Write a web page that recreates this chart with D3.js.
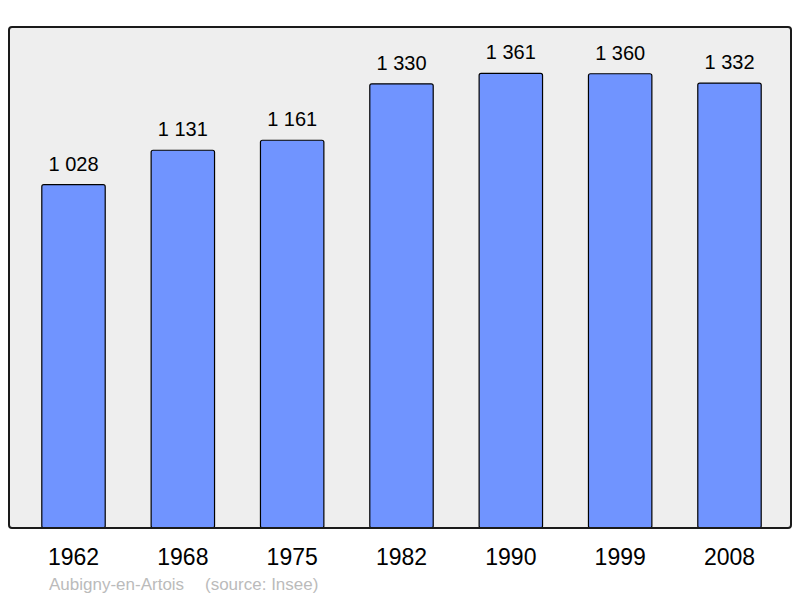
<!DOCTYPE html>
<html>
<head>
<meta charset="utf-8">
<script src="https://cdn.jsdelivr.net/npm/d3@7"></script>
<style>
  body { margin: 0; background: #fff; }
  text { font-family: "Liberation Sans", Arial, sans-serif; }
</style>
</head>
<body>
<div id="chart"></div>
<script>
// data
const years = ['1962', '1968', '1975', '1982', '1990', '1999', '2008'];
const population = [1028, 1131, 1161, 1330, 1361, 1360, 1332];
const commune = 'Aubigny-en-Artois';
const source = '(source: Insee)';

const FRAME_WIDTH = 800;
const FRAME_HEIGHT = 598;
const PLOT = {left: 9, right: 791, top: 27, bottom: 528};

const svg = d3.select('#chart')
  .append('svg')
  .attr('width', FRAME_WIDTH)
  .attr('height', FRAME_HEIGHT);

// scales
const x = d3.scaleBand()
  .domain(years)
  .range([PLOT.left, 794])
  .paddingInner(0.42)
  .paddingOuter(0.3);

const y = d3.scaleLinear()
  .domain([0, 1500])
  .range([PLOT.bottom, PLOT.top]);

// plot background
svg.append('rect')
  .attr('x', PLOT.left)
  .attr('y', PLOT.top)
  .attr('width', PLOT.right - PLOT.left)
  .attr('height', PLOT.bottom - PLOT.top)
  .attr('rx', 3)
  .attr('fill', '#eeeeee')
  .attr('stroke', 'none');

// bars
svg.selectAll('.bar')
  .data(population)
  .join('rect')
  .attr('class', 'bar')
  .attr('x', (d, i) => x(years[i]))
  .attr('y', d => y(d))
  .attr('width', x.bandwidth())
  .attr('height', d => PLOT.bottom - y(d))
  .attr('rx', 2)
  .attr('fill', '#7094ff')
  .attr('stroke', '#000')
  .attr('stroke-width', 1.2);

// frame on top so bar bottoms sit under it
svg.append('rect')
  .attr('x', PLOT.left)
  .attr('y', PLOT.top)
  .attr('width', PLOT.right - PLOT.left)
  .attr('height', PLOT.bottom - PLOT.top)
  .attr('rx', 3)
  .attr('fill', 'none')
  .attr('stroke', '#1a1a1a')
  .attr('stroke-width', 2);

// value labels, french thousands separator
const fmt = d => d3.format(',')(d).replace(',', ' ');
svg.selectAll('.value')
  .data(population)
  .join('text')
  .attr('class', 'value')
  .attr('x', (d, i) => x(years[i]) + x.bandwidth() / 2)
  .attr('y', d => y(d) - 14)
  .attr('text-anchor', 'middle')
  .attr('font-size', 20)
  .attr('fill', '#000')
  .text(fmt);

// x axis labels
const xAxis = d3.axisBottom(x).tickSize(0).tickPadding(0);
svg.append('g')
  .attr('transform', `translate(0, ${PLOT.bottom})`)
  .call(xAxis)
  .call(g => g.select('.domain').remove())
  .call(g => g.selectAll('text')
    .attr('dy', null)
    .attr('y', 37)
    .attr('font-size', 23)
    .attr('font-family', '"Liberation Sans", Arial, sans-serif')
    .attr('fill', '#000'));

// caption
const caption = svg.append('text')
  .attr('y', 590)
  .attr('font-size', 17)
  .attr('fill', '#bbbbbb');
caption.append('tspan').attr('x', 49).text(commune);
caption.append('tspan').attr('x', 205).text(source);
</script>
</body>
</html>
